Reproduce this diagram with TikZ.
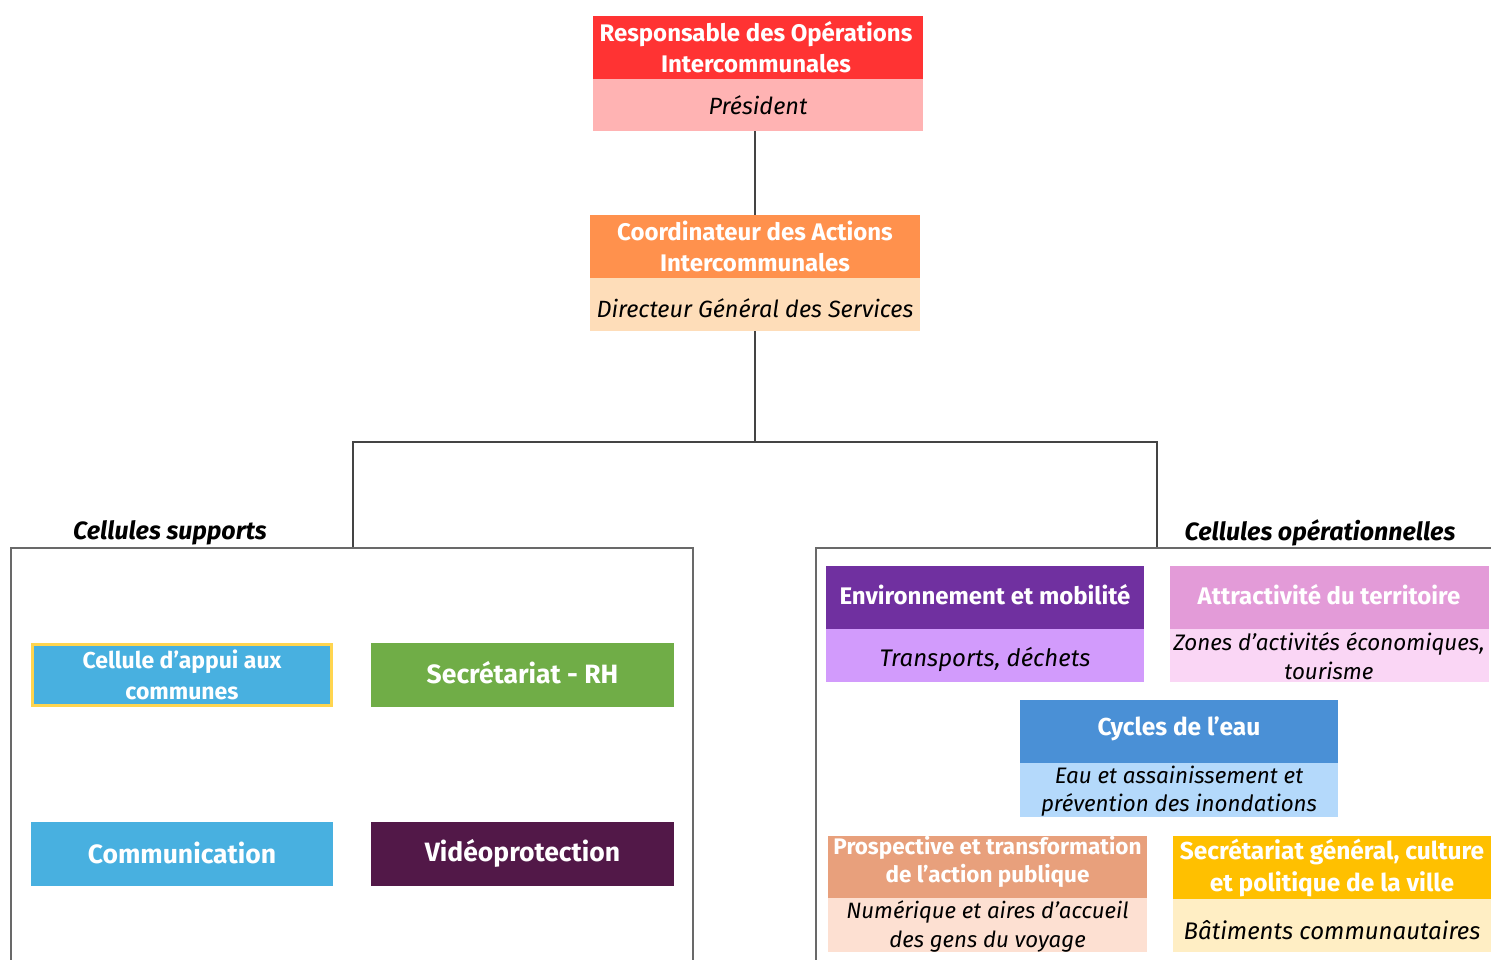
\documentclass[tikz,border=0pt]{standalone}
\usepackage{fontspec}
\setmainfont{Fira Sans}
\definecolor{redh}{HTML}{FF3333}
\definecolor{redb}{HTML}{FFB3B3}
\definecolor{orah}{HTML}{FF914D}
\definecolor{orab}{HTML}{FEDDB9}
\definecolor{cyan1}{HTML}{48B0E0}
\definecolor{yel1}{HTML}{FFD54F}
\definecolor{grn1}{HTML}{70AD47}
\definecolor{plum1}{HTML}{521848}
\definecolor{purh}{HTML}{7030A0}
\definecolor{purb}{HTML}{D29BFC}
\definecolor{pinh}{HTML}{E39BD8}
\definecolor{pinb}{HTML}{FAD6F5}
\definecolor{blueh}{HTML}{4A90D6}
\definecolor{blueb}{HTML}{B4D9FB}
\definecolor{salh}{HTML}{E8A07C}
\definecolor{salb}{HTML}{FDE0D2}
\definecolor{gold}{HTML}{FFC000}
\definecolor{goldb}{HTML}{FFEEC4}
\definecolor{linec}{HTML}{444444}
\begin{document}
\begin{tikzpicture}[x=1pt,y=-1pt,
  hdr/.style={draw=none,inner sep=0pt,font=\bfseries\fontsize{24}{31}\selectfont,text=white,align=center},
  bdy/.style={draw=none,inner sep=0pt,font=\itshape\fontsize{23.5}{29}\selectfont,text=black,align=center},
  conn/.style={draw=linec,line width=1.6pt},
  frame/.style={draw=linec!80,line width=1.4pt},
  sect/.style={font=\bfseries\itshape\fontsize{25}{28}\selectfont}]
\useasboundingbox (0,0) rectangle (1491,959);
% top box
\fill[redh] (593,16) rectangle (923,79);
\fill[redb] (593,79) rectangle (923,131);
\node[hdr] (resp) at (756,47.5) {Responsable des Opérations\\Intercommunales};
\node[bdy] (pres) at (758,105) {Président};
\coordinate (respb) at (755,131);
% second box
\fill[orah] (590,215) rectangle (920,278);
\fill[orab] (590,278) rectangle (920,331);
\node[hdr] (coord) at (755,246.5) {Coordinateur des Actions\\Intercommunales};
\node[bdy] (dgs) at (755,308) {Directeur Général des Services};
\coordinate (coordt) at (755,215);
\coordinate (coordb) at (755,331);
\coordinate (junc) at (755,442);
\coordinate (lt) at (353,442);
\coordinate (rt) at (1157,442);
\coordinate (lb) at (353,548);
\coordinate (rb) at (1157,548);
\draw[conn] (respb) -- (coordt);
\draw[conn] (coordb) -- (junc);
\draw[conn] (lb) -- (lt) -- (rt) -- (rb);
% frames
\draw[frame] (11,962) -- (11,548) -- (693,548) -- (693,962);
\draw[frame] (816,962) -- (816,548) -- (1495,548);
\node[sect] (cs) at (170,533) {Cellules supports};
\node[sect] (co) at (1320,533) {Cellules opérationnelles};
% left boxes
\draw[fill=cyan1,draw=yel1,line width=3pt] (32.5,644.5) rectangle (331.5,705.5);
\node[hdr,font=\bfseries\fontsize{23}{31}\selectfont] (appui) at (182,675) {Cellule d’appui aux\\communes};
\fill[grn1] (371,643) rectangle (674,707);
\node[hdr,font=\bfseries\fontsize{26.5}{31}\selectfont] (secrh) at (522.5,673) {Secrétariat - RH};
\fill[cyan1] (31,822) rectangle (333,886);
\node[hdr,font=\bfseries\fontsize{26.5}{31}\selectfont] (comm) at (182,853) {Communication};
\fill[plum1] (371,822) rectangle (674,886);
\node[hdr,font=\bfseries\fontsize{26.5}{31}\selectfont] (video) at (522.5,853) {Vidéoprotection};
% right boxes
\fill[purh] (826,566) rectangle (1144,629);
\fill[purb] (826,629) rectangle (1144,682);
\node[hdr] (env) at (985,595) {Environnement et mobilité};
\node[bdy,font=\itshape\fontsize{24}{29}\selectfont] (envb) at (985,659) {Transports, déchets};
\fill[pinh] (1170,566) rectangle (1489,629);
\fill[pinb] (1170,629) rectangle (1489,682);
\node[hdr] (attr) at (1329,595) {Attractivité du territoire};
\node[bdy,font=\itshape\fontsize{22.4}{29}\selectfont] (attrb) at (1329,656) {Zones d’activités économiques,\\tourisme};
\fill[blueh] (1020,700) rectangle (1338,763);
\fill[blueb] (1020,763) rectangle (1338,817);
\node[hdr,font=\bfseries\fontsize{24.5}{31}\selectfont] (cyc) at (1179,729) {Cycles de l’eau};
\node[bdy,font=\itshape\fontsize{22.4}{28}\selectfont] (cycb) at (1179,791) {Eau et assainissement et\\prévention des inondations};
\fill[salh] (828,836) rectangle (1147,898);
\fill[salb] (828,898) rectangle (1147,952);
\node[hdr,font=\bfseries\fontsize{22.5}{28}\selectfont] (pros) at (987.5,862) {Prospective et transformation\\de l’action publique};
\node[bdy,font=\itshape\fontsize{22.2}{29}\selectfont] (prosb) at (987.5,926) {Numérique et aires d’accueil\\des gens du voyage};
\fill[gold] (1173,836) rectangle (1491,899);
\fill[goldb] (1173,899) rectangle (1491,952);
\node[hdr,font=\bfseries\fontsize{24.5}{32}\selectfont] (sg) at (1332,868) {Secrétariat général, culture\\et politique de la ville};
\node[bdy,font=\itshape\fontsize{24}{29}\selectfont] (sgb) at (1332,930) {Bâtiments communautaires};
\end{tikzpicture}
\end{document}
